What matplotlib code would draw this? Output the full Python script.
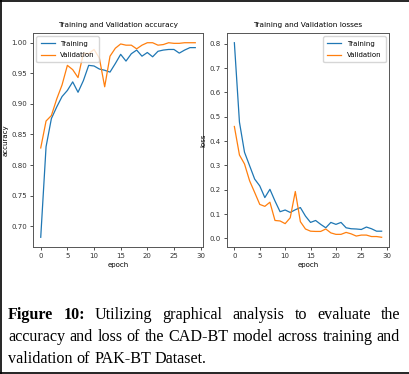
import matplotlib
matplotlib.use("Agg")
import matplotlib.pyplot as plt
from matplotlib.lines import Line2D

# data
epochs = list(range(30))

train_acc = [0.682, 0.830, 0.876, 0.895, 0.912, 0.922, 0.936, 0.919, 0.938, 0.963,
             0.962, 0.957, 0.955, 0.952, 0.966, 0.981, 0.970, 0.982, 0.988, 0.978,
             0.984, 0.977, 0.986, 0.988, 0.989, 0.989, 0.983, 0.988, 0.992, 0.992]
val_acc = [0.828, 0.872, 0.881, 0.908, 0.931, 0.963, 0.956, 0.943, 0.983, 0.982,
           0.989, 0.975, 0.928, 0.978, 0.991, 0.998, 0.996, 0.996, 0.990, 0.996,
           1.000, 1.000, 0.996, 0.997, 1.000, 0.999, 0.999, 1.000, 1.000, 1.000]

train_loss = [0.804, 0.478, 0.354, 0.299, 0.244, 0.216, 0.168, 0.202, 0.154, 0.110,
              0.117, 0.107, 0.118, 0.127, 0.092, 0.066, 0.074, 0.058, 0.044, 0.066,
              0.058, 0.066, 0.044, 0.040, 0.039, 0.037, 0.047, 0.040, 0.030, 0.030]
val_loss = [0.460, 0.343, 0.306, 0.237, 0.189, 0.140, 0.132, 0.149, 0.074, 0.072,
            0.061, 0.085, 0.193, 0.069, 0.039, 0.030, 0.029, 0.029, 0.039, 0.023,
            0.017, 0.017, 0.025, 0.019, 0.010, 0.014, 0.014, 0.008, 0.008, 0.005]

caption_lines = [
    [("Figure", "bold"), ("10:", "bold"), ("Utilizing", "normal"), ("graphical", "normal"),
     ("analysis", "normal"), ("to", "normal"), ("evaluate", "normal"), ("the", "normal")],
    [(w, "normal") for w in "accuracy and loss of the CAD-BT model across training and".split()],
    [(w, "normal") for w in "validation of PAK-BT Dataset.".split()],
]

W, H = 409, 374
fig = plt.figure(figsize=(W / 100, H / 100), dpi=100)
fig.patch.set_facecolor("white")

small = 5.0
blue = "#1f77b4"
orange = "#ff7f0e"


def style_axes(ax):
    for s in ax.spines.values():
        s.set_color("#555555")
        s.set_linewidth(0.7)
    ax.tick_params(labelsize=small, length=2.5, width=0.6, pad=2,
                   colors="#333333")


ax1 = fig.add_axes([33 / W, 1 - 247 / H, 170 / W, 214 / H])
ax1.plot(epochs, train_acc, color=blue, lw=0.9, label="Training")
ax1.plot(epochs, val_acc, color=orange, lw=0.9, label="Validation")
ax1.set_title("Training and Validation accuracy", fontsize=5.3, pad=4)
ax1.set_xlabel("epoch", fontsize=small, labelpad=2)
ax1.set_ylabel("accuracy", fontsize=small, labelpad=2)
ax1.set_xticks([0, 5, 10, 15, 20, 25, 30])
ax1.set_yticks([0.70, 0.75, 0.80, 0.85, 0.90, 0.95, 1.00])
style_axes(ax1)
ax1.legend(loc="upper left", fontsize=small, handlelength=2.0, borderpad=0.6,
           labelspacing=0.8, frameon=True)

ax2 = fig.add_axes([227 / W, 1 - 247 / H, 162 / W, 214 / H])
ax2.plot(epochs, train_loss, color=blue, lw=0.9, label="Training")
ax2.plot(epochs, val_loss, color=orange, lw=0.9, label="Validation")
ax2.set_title("Training and Validation losses", fontsize=5.3, pad=4)
ax2.set_xlabel("epoch", fontsize=small, labelpad=2)
ax2.set_ylabel("loss", fontsize=small, labelpad=2)
ax2.set_xticks([0, 5, 10, 15, 20, 25, 30])
ax2.set_yticks([0.0, 0.1, 0.2, 0.3, 0.4, 0.5, 0.6, 0.7, 0.8])
style_axes(ax2)
ax2.legend(loc="upper right", fontsize=small, handlelength=2.0, borderpad=0.6,
           labelspacing=0.8, frameon=True)

# outer frame of the figure (top, left, bottom)
frame = dict(color="black", lw=1.2, transform=fig.transFigure)
fig.add_artist(Line2D([0, 1], [1 - 0.6 / H, 1 - 0.6 / H], **frame))
fig.add_artist(Line2D([0.6 / W, 0.6 / W], [0, 1], **frame))
fig.add_artist(Line2D([0, 1], [1 - 372.5 / H, 1 - 372.5 / H], **frame))

# justified caption
renderer = fig.canvas.get_renderer()
cap_font = "Liberation Serif"
cap_size = 11.6
x_left, x_right = 8, 400
baselines = [319, 341, 363]
for i, words in enumerate(caption_lines):
    texts = []
    widths = []
    for w, weight in words:
        t = fig.text(0, 0, w, fontsize=cap_size, family=cap_font, weight=weight,
                     va="baseline", ha="left", color="black")
        widths.append(t.get_window_extent(renderer).width)
        texts.append(t)
    if i < len(caption_lines) - 1:
        gap = (x_right - x_left - sum(widths)) / (len(words) - 1)
    else:
        gap = cap_size * 100 / 72 * 0.25
    x = x_left
    y = 1 - baselines[i] / H
    for t, wd in zip(texts, widths):
        t.set_position((x / W, y))
        x += wd + gap

fig.savefig("out.png", dpi=100)
